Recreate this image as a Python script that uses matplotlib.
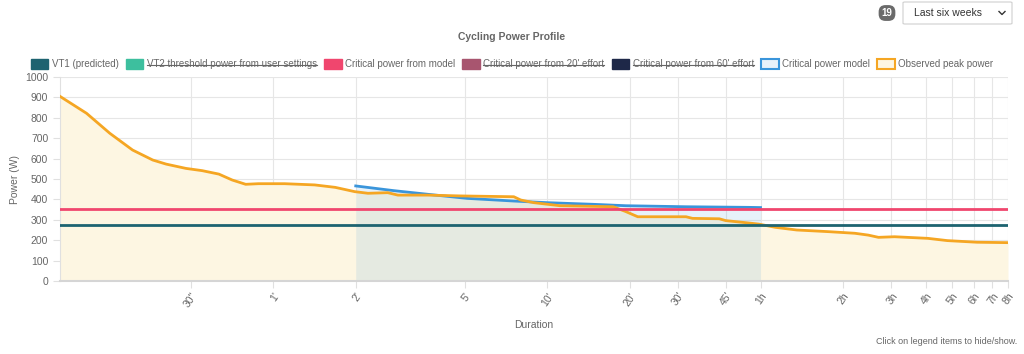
import matplotlib
matplotlib.use("Agg")
import matplotlib.pyplot as plt
from matplotlib.patches import Patch, FancyBboxPatch
from matplotlib.lines import Line2D

# --- data ---
peak_dur = [10, 12.5, 15.2, 18.4, 21.8, 24.4, 28.8, 33, 38, 42.5, 47.6, 53, 66, 85, 101,
            119, 133, 157, 171, 220, 290, 453, 480, 536, 668, 1044, 1162, 1283, 1925,
            2033, 2545, 2688, 3175, 3546, 4080, 4880, 6350, 7950, 8900, 9700, 11100,
            14700, 17300, 22200, 28800]
peak_pow = [905, 822, 724, 642, 593, 573, 552, 541, 524, 495, 474, 477, 477, 471, 459,
            438, 430, 433, 421, 421, 417, 413, 397, 384, 369, 364, 340, 315, 315,
            307, 305, 296, 286, 279, 263, 250, 242, 234, 225, 214, 217,
            209, 198, 190, 188]

model_dur = [120, 165, 220, 306, 453, 600, 880, 1162, 1925, 3262, 3600]
model_pow = [466, 443, 425, 405, 392, 384, 376, 369, 364, 361, 360]

vt1_power = 275
cp_power = 355

tick_secs = [30, 60, 120, 300, 600, 1200, 1800, 2700, 3600, 7200, 10800, 14400,
             18000, 21600, 25200, 28800]
tick_labels = ['30"', "1'", "2'", "5'", "10'", "20'", "30'", "45'", "1h", "2h", "3h",
               "4h", "5h", "6h", "7h", "8h"]

legend_labels = ["VT1 (predicted)", "VT2 threshold power from user settings",
                 "Critical power from model", "Critical power from 20' effort",
                 "Critical power from 60' effort", "Critical power model",
                 "Observed peak power"]
hidden = [False, True, False, True, True, False, False]

# colours
c_vt1 = "#1d6370"
c_vt2 = "#3dbf9e"
c_cp = "#f0466e"
c_cp20 = "#a8556f"
c_cp60 = "#1e2848"
c_model = "#3a95db"
c_peak = "#f5a623"
grey = "#666666"

plt.rcParams["font.family"] = ["Liberation Sans", "DejaVu Sans"]

fig = plt.figure(figsize=(10.24, 3.54), dpi=100)
ax = fig.add_axes([60 / 1024, 1 - 281 / 354, 948 / 1024, 204 / 354])

ax.fill_between(peak_dur, peak_pow, 0, color="#fdf6e2", lw=0, zorder=1)
ax.fill_between(model_dur, model_pow, 0, color="#3a95db", alpha=0.12, lw=0, zorder=2)
ax.plot(model_dur, model_pow, color=c_model, lw=2, zorder=4)
ax.plot(peak_dur, peak_pow, color=c_peak, lw=2, zorder=5)
ax.axhline(cp_power, color=c_cp, lw=2, zorder=6)
ax.axhline(vt1_power, color=c_vt1, lw=2, zorder=6)

ax.set_xscale("log")
ax.set_xlim(10, 28800)
ax.set_ylim(0, 1000)
ax.set_xticks(tick_secs)
ax.set_xticklabels(tick_labels, rotation=55, ha="right", rotation_mode="anchor")
ax.minorticks_off()
ax.set_yticks(range(0, 1001, 100))

ax.grid(True, color="#e6e6e6", lw=0.8, zorder=0)
ax.set_axisbelow(True)
for s in ["top", "right"]:
    ax.spines[s].set_visible(False)
ax.spines["left"].set_color("#e0e0e0")
ax.spines["bottom"].set_color("#d5d5d5")
ax.spines["bottom"].set_linewidth(1.5)
ax.tick_params(axis="both", colors="#e0e0e0", labelcolor=grey, labelsize=7.5, length=5)
ax.tick_params(axis="x", pad=2)

ax.set_xlabel("Duration", color=grey, fontsize=7.5, labelpad=8)
ax.set_ylabel("Power (W)", color=grey, fontsize=7.5, labelpad=4)

fig.text(0.5, 1 - 37 / 354, "Cycling Power Profile", ha="center", va="center",
         fontsize=7.5, fontweight="bold", color=grey)

handles = [
    Patch(facecolor=c_vt1, edgecolor=c_vt1),
    Patch(facecolor=c_vt2, edgecolor=c_vt2),
    Patch(facecolor=c_cp, edgecolor=c_cp),
    Patch(facecolor=c_cp20, edgecolor=c_cp20),
    Patch(facecolor=c_cp60, edgecolor=c_cp60),
    Patch(facecolor="#e8f1fa", edgecolor=c_model, lw=1.5),
    Patch(facecolor="#fdf6e2", edgecolor=c_peak, lw=1.5),
]
leg = fig.legend(handles, legend_labels, loc="center", ncol=7,
                 bbox_to_anchor=(0.5, 1 - 64 / 354), frameon=False, fontsize=7.0,
                 handlelength=1.8, handleheight=1.15, handletextpad=0.35,
                 columnspacing=0.75, labelcolor=grey)

fig.text(1017 / 1024, 1 - 341 / 354, "Click on legend items to hide/show.",
         ha="right", va="center", fontsize=6.5, color=grey)

# top-right controls
fig.text(887 / 1024, 1 - 13 / 354, "19", ha="center", va="center", fontsize=7,
         fontweight="bold", color="white",
         bbox=dict(boxstyle="round,pad=0.3,rounding_size=0.7", fc="#6a6a6a", ec="none"))
fig.patches.append(FancyBboxPatch((903 / 1024, 1 - 24 / 354), 109 / 1024, 22 / 354,
                                  boxstyle="round,pad=0,rounding_size=0.002",
                                  transform=fig.transFigure, facecolor="white",
                                  edgecolor="#cfcfcf", lw=0.8))
fig.text(914 / 1024, 1 - 13 / 354, "Last six weeks", ha="left", va="center",
         fontsize=7.5, color="#333333")
fig.add_artist(Line2D([999 / 1024, 1002 / 1024, 1005 / 1024],
                      [1 - 11.5 / 354, 1 - 14.5 / 354, 1 - 11.5 / 354],
                      transform=fig.transFigure, color="#333333", lw=1))

# strike through hidden legend entries
fig.canvas.draw()
renderer = fig.canvas.get_renderer()
W, H = fig.bbox.width, fig.bbox.height
for txt, off in zip(leg.get_texts(), hidden):
    if off:
        bb = txt.get_window_extent(renderer)
        ym = (bb.y0 + bb.y1) / 2 - 0.5
        fig.add_artist(Line2D([bb.x0 / W, bb.x1 / W], [ym / H, ym / H],
                              transform=fig.transFigure, color=grey, lw=0.8))

fig.savefig("out.png", dpi=100)
